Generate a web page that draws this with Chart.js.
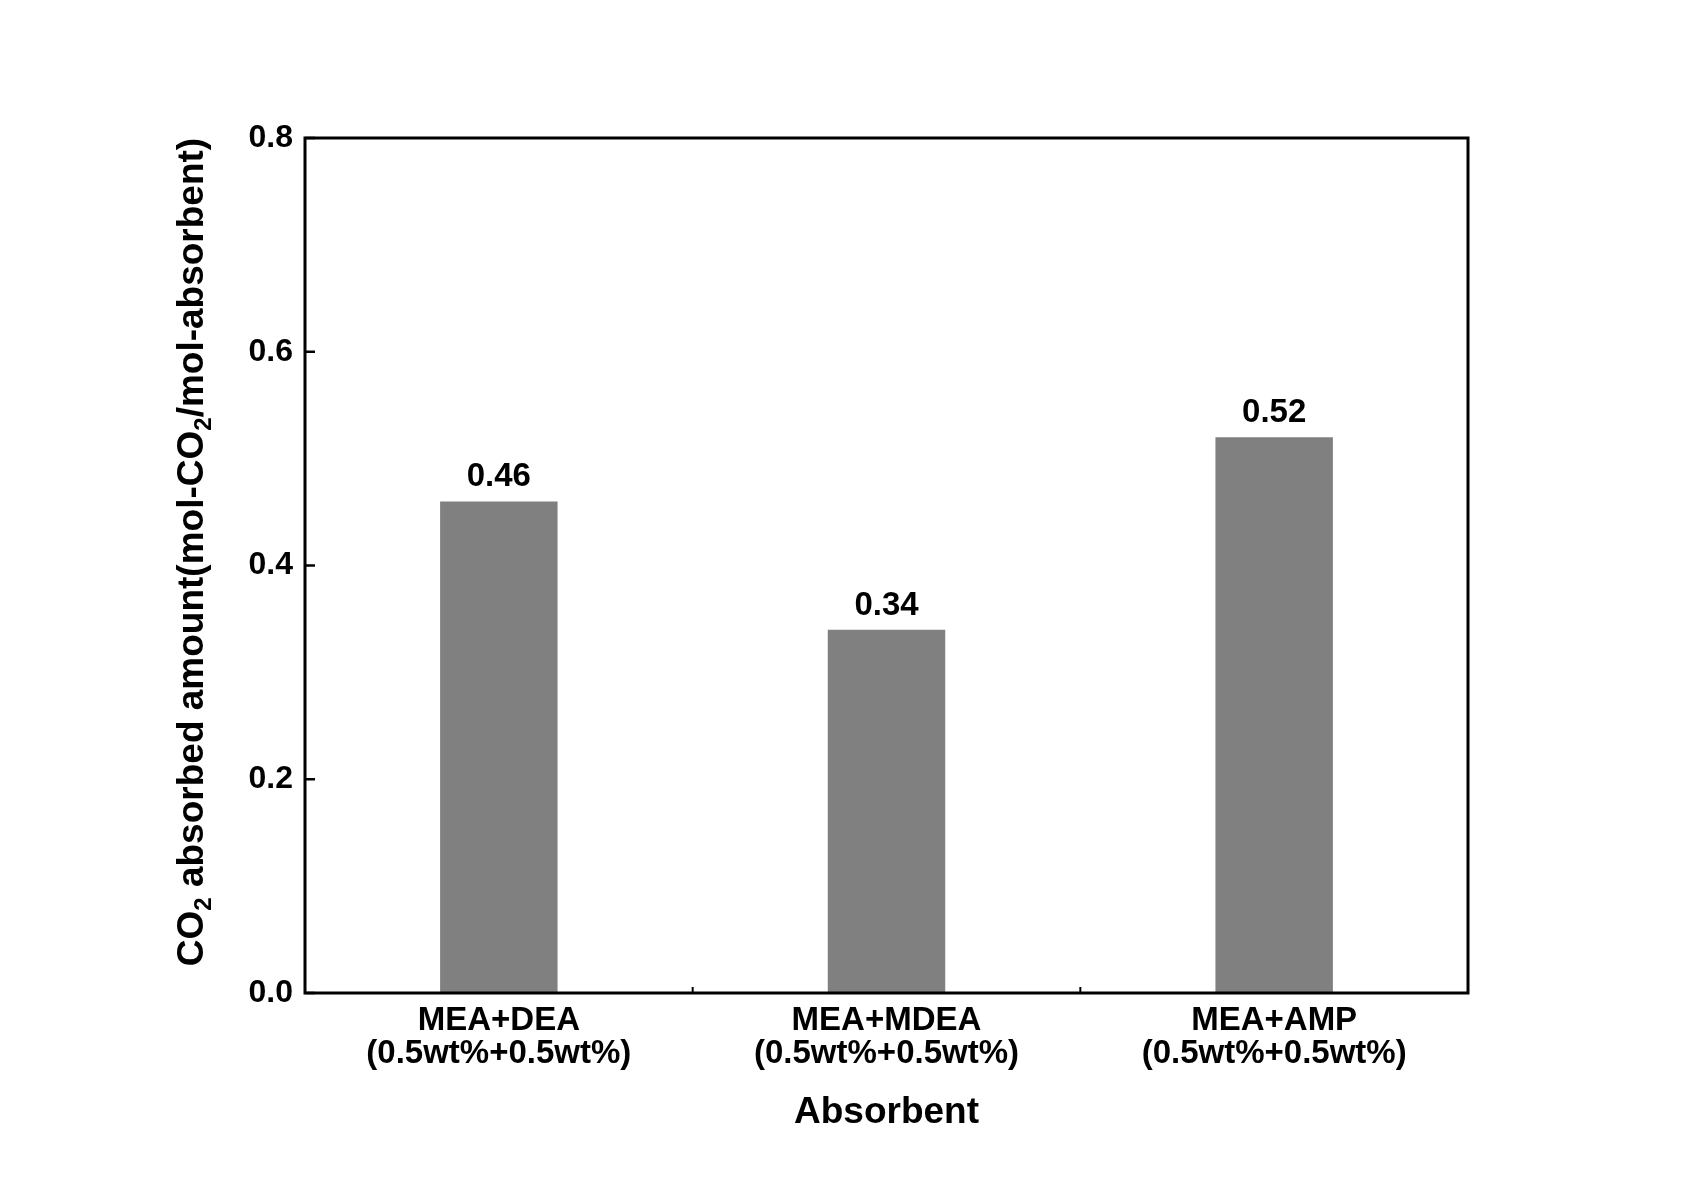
<!DOCTYPE html>
<html>
<head>
<meta charset="utf-8">
<script src="https://cdn.jsdelivr.net/npm/chart.js@4.4.1/dist/chart.umd.min.js"></script>
<style>
  body { margin: 0; background: #fff; }
  #wrap { width: 1703px; height: 1189px; }
</style>
</head>
<body>
<div id="wrap"><canvas id="absChart" width="1703" height="1189"></canvas></div>
<script>
// Data
const categories = [
    ['MEA+DEA', '(0.5wt%+0.5wt%)'],
    ['MEA+MDEA', '(0.5wt%+0.5wt%)'],
    ['MEA+AMP', '(0.5wt%+0.5wt%)']
];
const absorbedAmount = [0.46, 0.34, 0.52];
const valueLabels = ['0.46', '0.34', '0.52'];
const yTicks = [0.0, 0.2, 0.4, 0.6, 0.8];

const FONT = '"Liberation Sans", Arial, sans-serif';

// frame, inward ticks, value labels and axis titles
const decorPlugin = {
    id: 'decor',
    afterDatasetsDraw(chart) {
        const ctx = chart.ctx;
        const area = chart.chartArea;
        const xs = chart.scales.x;
        const ys = chart.scales.y;

        ctx.save();
        ctx.strokeStyle = '#000';
        ctx.lineWidth = 3;
        ctx.strokeRect(area.left, area.top, area.right - area.left, area.bottom - area.top);

        // y ticks pointing inside
        ctx.lineWidth = 2.5;
        yTicks.forEach(v => {
            const y = ys.getPixelForValue(v);
            ctx.beginPath();
            ctx.moveTo(area.left, y);
            ctx.lineTo(area.left + 10, y);
            ctx.stroke();
        });

        // x ticks at category boundaries
        ctx.lineWidth = 2;
        for (let i = 1; i < categories.length; i++) {
            const x = (xs.getPixelForValue(i - 1) + xs.getPixelForValue(i)) / 2;
            ctx.beginPath();
            ctx.moveTo(x, area.bottom);
            ctx.lineTo(x, area.bottom - 6);
            ctx.stroke();
        }

        // value labels above bars
        ctx.fillStyle = '#000';
        ctx.font = 'bold 33px ' + FONT;
        ctx.textAlign = 'center';
        ctx.textBaseline = 'alphabetic';
        const meta = chart.getDatasetMeta(0);
        meta.data.forEach((bar, i) => {
            ctx.fillText(valueLabels[i], bar.x, bar.y - 15);
        });

        // x title
        ctx.font = 'bold 37px ' + FONT;
        ctx.textBaseline = 'middle';
        ctx.fillText('Absorbent', (area.left + area.right) / 2, 1113);

        // y title with subscripts
        const parts = [
            { t: 'CO', sub: false },
            { t: '2', sub: true },
            { t: ' absorbed amount(mol-CO', sub: false },
            { t: '2', sub: true },
            { t: '/mol-absorbent)', sub: false }
        ];
        const size = 37;
        const mainFont = 'bold ' + size + 'px ' + FONT;
        const subFont = 'bold ' + Math.round(size * 0.65) + 'px ' + FONT;
        let total = 0;
        parts.forEach(p => {
            ctx.font = p.sub ? subFont : mainFont;
            p.w = ctx.measureText(p.t).width;
            total += p.w;
        });
        ctx.translate(193, 552);
        ctx.rotate(-Math.PI / 2);
        ctx.textAlign = 'left';
        let cx = -total / 2;
        parts.forEach(p => {
            ctx.font = p.sub ? subFont : mainFont;
            ctx.fillText(p.t, cx, p.sub ? size * 0.3 : 0);
            cx += p.w;
        });
        ctx.restore();
    }
};

const ctx = document.getElementById('absChart').getContext('2d');
const absChart = new Chart(ctx, {
    type: 'bar',
    data: {
        labels: categories,
        datasets: [{
            data: absorbedAmount,
            backgroundColor: '#808080',
            borderWidth: 0,
            categoryPercentage: 1.0,
            barPercentage: 0.303
        }]
    },
    options: {
        responsive: false,
        animation: false,
        layout: {
            padding: { left: 0, right: 235, top: 138, bottom: 0 }
        },
        plugins: {
            legend: { display: false },
            tooltip: { enabled: false }
        },
        scales: {
            x: {
                offset: true,
                grid: { display: false, drawTicks: false },
                border: { display: false },
                afterFit(scale) { scale.height = 196; },
                ticks: {
                    color: '#000',
                    padding: 11,
                    maxRotation: 0,
                    font: { family: FONT, size: 33, weight: 'bold', lineHeight: 1.0 }
                }
            },
            y: {
                min: 0,
                max: 0.8,
                grid: { display: false, drawTicks: false },
                border: { display: false },
                afterFit(scale) { scale.width = 305; },
                afterBuildTicks(scale) {
                    scale.ticks = yTicks.map(v => ({ value: v }));
                },
                ticks: {
                    color: '#000',
                    padding: 12,
                    font: { family: FONT, size: 32, weight: 'bold' },
                    callback: v => Number(v).toFixed(1)
                }
            }
        }
    },
    plugins: [decorPlugin]
});
</script>
</body>
</html>
